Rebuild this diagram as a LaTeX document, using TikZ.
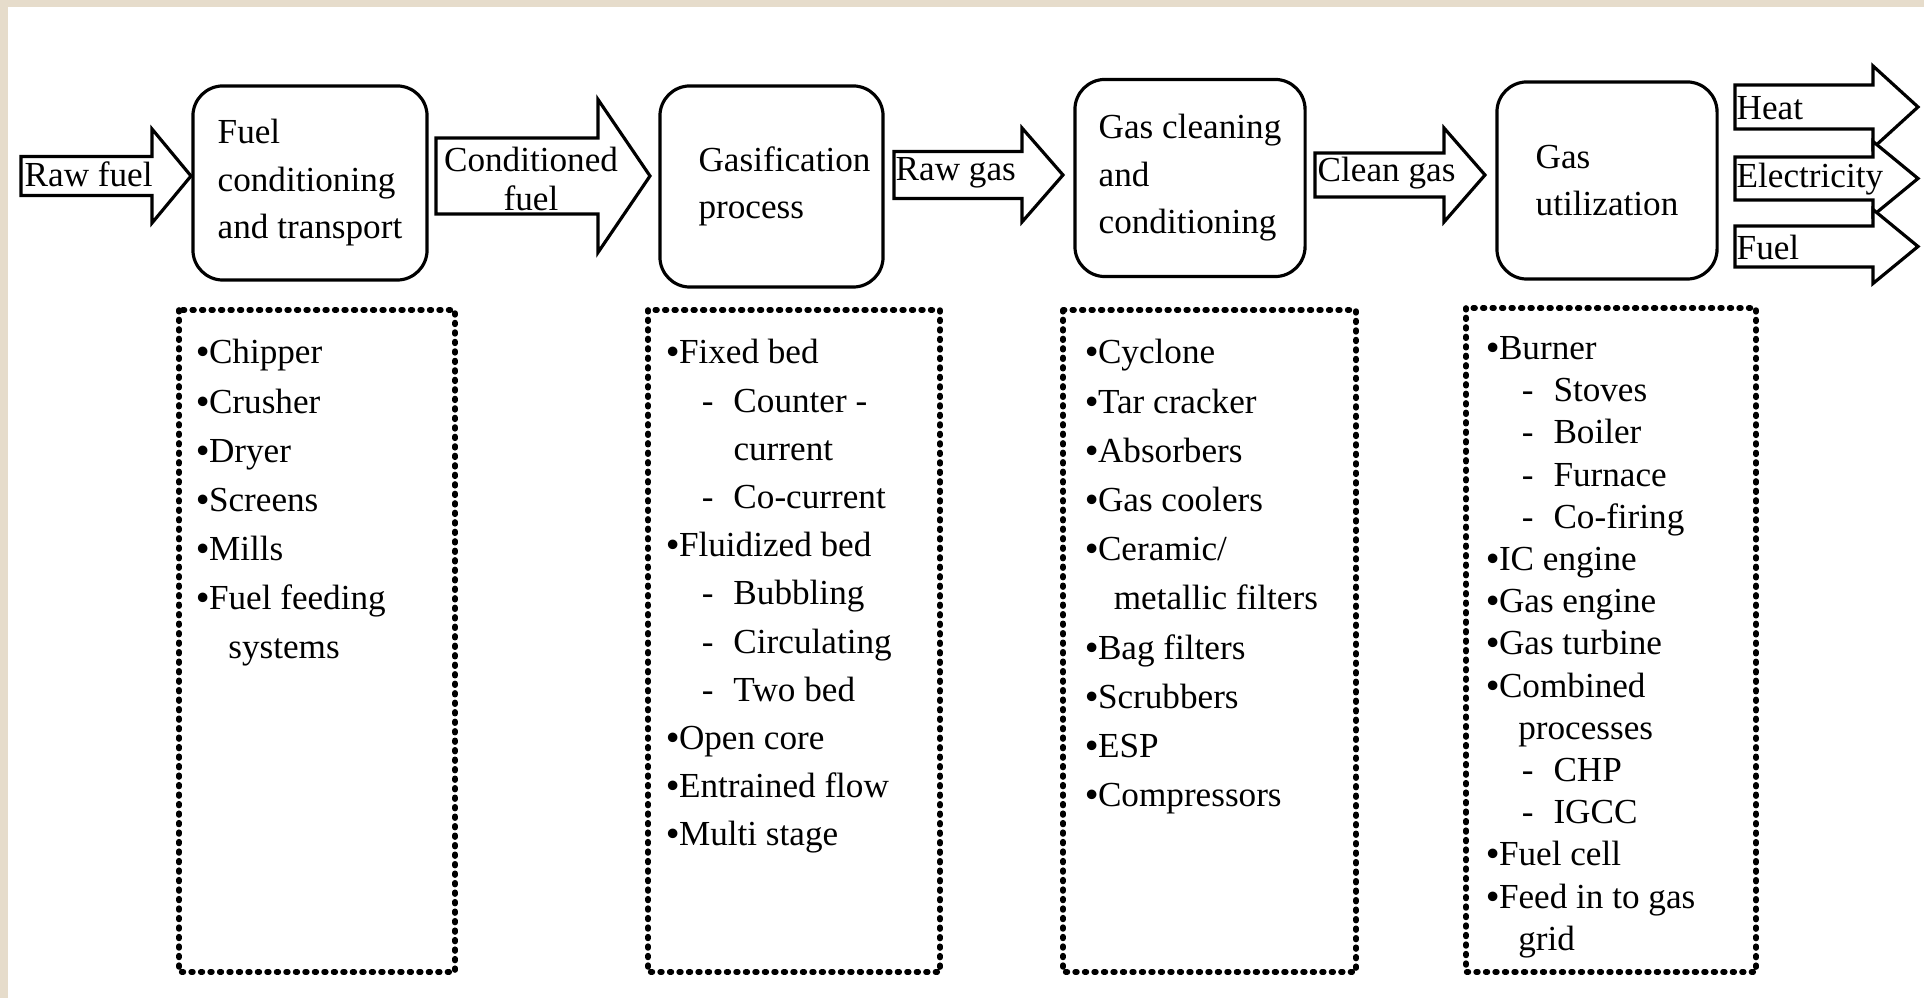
\documentclass[tikz,border=0pt]{standalone}
\usepackage{fontspec}
\setmainfont{Liberation Serif}
\usetikzlibrary{positioning}
\definecolor{PageBeige}{HTML}{E6DCCB}

% block arrow: left x, head base x, tip x, centre y, shaft half, head half
\newcommand{\blockarrow}[6]{%
  \draw[blockarr] (#1,#4-#5) -- (#2,#4-#5) -- (#2,#4-#6) -- (#3,#4)
    -- (#2,#4+#6) -- (#2,#4+#5) -- (#1,#4+#5) -- cycle;}
\newcommand{\bul}{\textbf{•}}
\newcommand{\listsub}[1]{\hspace*{1em}\makebox[0.9em][l]{-}#1}
\newcommand{\listcont}[2][0.9em]{\hspace*{#1}#2}

\tikzset{
  procbox/.style={draw, line width=0.9pt, rounded corners=0.3cm, align=left,
    inner sep=0pt, font=\fontsize{10}{13.5}\selectfont},
  blockarr/.style={draw, line width=0.9pt, fill=white, line join=miter},
  arrlabel/.style={inner sep=0pt, font=\fontsize{10}{11}\selectfont},
  listframe/.style={line width=1.6pt, dash pattern=on 0.5pt off 2.2pt, line cap=round},
  listitem/.style={anchor=base west, inner sep=0pt, font=\fontsize{10}{12}\selectfont},
}

\begin{document}
\begin{tikzpicture}[x=0.01cm, y=-0.01cm]
  % page
  \useasboundingbox (0,0) rectangle (1924,998);
  \fill[PageBeige] (0,0) rectangle (1924,998);
  \fill[white] (8,7) rectangle (1924,998);

  % process boxes
  \node[procbox, minimum width=2.34cm, minimum height=1.94cm] (fuelcond) at (310,183)
    {Fuel\\conditioning\\and transport};
  \node[procbox, minimum width=2.23cm, minimum height=2.01cm] (gasif) at (771.5,186.5)
    {\hspace*{0.26cm}Gasification\\\hspace*{0.26cm}process};
  \node[procbox, minimum width=2.30cm, minimum height=1.97cm] (gasclean) at (1190,178)
    {Gas cleaning\\and\\conditioning};
  \node[procbox, minimum width=2.20cm, minimum height=1.97cm] (gasuse) at (1607,180.5)
    {Gas\\utilization};

  % flow arrows
  \blockarrow{21}{152}{191}{176}{19.5}{47}
  \node[arrlabel, anchor=west] (rawfuel) at (24,174) {Raw fuel};
  \blockarrow{436}{598}{650}{176}{38}{76.5}
  \node[arrlabel, align=center] (condfuel) at (531,179) {Conditioned\\fuel};
  \blockarrow{894}{1022}{1063}{175}{23.5}{47}
  \node[arrlabel, anchor=west] (rawgas) at (895,173) {Raw gas};
  \blockarrow{1315}{1444}{1485}{175}{22}{47}
  \node[arrlabel, anchor=west] (cleangas) at (1317,173) {Clean gas};

  % products
  \blockarrow{1735}{1873}{1918}{107}{22}{41}
  \node[arrlabel, anchor=west] (heat) at (1736,108) {Heat};
  \blockarrow{1735}{1873}{1918}{178.5}{21.5}{37}
  \node[arrlabel, anchor=west] (elec) at (1736,179) {Electricity};
  \blockarrow{1735}{1873}{1918}{246.5}{20.5}{37}
  \node[arrlabel, anchor=west] (fuelout) at (1736,247) {Fuel};

  % equipment lists
  \draw[listframe] (179,310) rectangle (455,972);
  \draw[listframe] (648,310) rectangle (940,972);
  \draw[listframe] (1063,310) rectangle (1356,972);
  \draw[listframe] (1466,308) rectangle (1756,972);

  \foreach \txt [count=\i] in {\bul Chipper, \bul Crusher, \bul Dryer, \bul Screens,
      \bul Mills, \bul Fuel feeding, \listcont{systems}}
    \node[listitem] (prep-\i) at (196,{364+49.1*(\i-1)}) {\txt};

  \foreach \txt [count=\i] in {\bul Fixed bed, \listsub{Counter -}, \listcont[1.9em]{current},
      \listsub{Co-current}, \bul Fluidized bed, \listsub{Bubbling}, \listsub{Circulating},
      \listsub{Two bed}, \bul Open core, \bul Entrained flow, \bul Multi stage}
    \node[listitem] (gasif-\i) at (666,{364+48.2*(\i-1)}) {\txt};

  \foreach \txt [count=\i] in {\bul Cyclone, \bul Tar cracker, \bul Absorbers,
      \bul Gas coolers, \bul Ceramic/, \listcont[0.8em]{metallic filters},
      \bul Bag filters, \bul Scrubbers, \bul ESP, \bul Compressors}
    \node[listitem] (clean-\i) at (1085,{364+49.2*(\i-1)}) {\txt};

  \foreach \txt [count=\i] in {\bul Burner, \listsub{Stoves}, \listsub{Boiler},
      \listsub{Furnace}, \listsub{Co-firing}, \bul IC engine, \bul Gas engine,
      \bul Gas turbine, \bul Combined, \listcont{processes}, \listsub{CHP},
      \listsub{IGCC}, \bul Fuel cell, \bul Feed in to gas, \listcont{grid}}
    \node[listitem] (use-\i) at (1486,{359.5+42.2*(\i-1)}) {\txt};
\end{tikzpicture}
\end{document}
